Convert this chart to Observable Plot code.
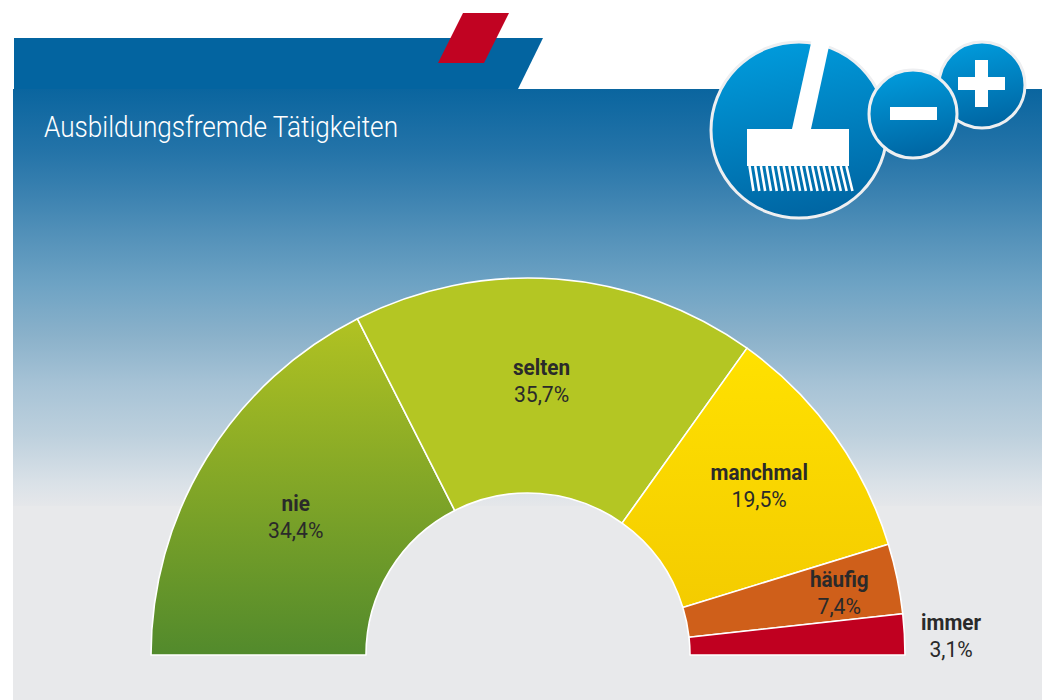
<!DOCTYPE html>
<html lang="de">
<head>
<meta charset="utf-8">
<script src="https://cdn.jsdelivr.net/npm/d3@7"></script>
<script src="https://cdn.jsdelivr.net/npm/@observablehq/plot@0.6"></script>
<style>
  html, body { margin: 0; padding: 0; background: #fff; }
  #stage { position: relative; width: 1046px; height: 700px; overflow: hidden; }
  #stage > svg { position: absolute; left: 0; top: 0; }
</style>
</head>
<body>
<div id="stage">
<svg width="1046" height="700" viewBox="0 0 1046 700" xmlns="http://www.w3.org/2000/svg">
  <defs>
    <linearGradient id="panel" gradientUnits="userSpaceOnUse" x1="0" y1="89" x2="0" y2="506">
      <stop offset="0" stop-color="#0a659f"/>
      <stop offset="0.146" stop-color="#2373a8"/>
      <stop offset="0.247" stop-color="#3a81b0"/>
      <stop offset="0.350" stop-color="#5391b9"/>
      <stop offset="0.470" stop-color="#6ea3c4"/>
      <stop offset="0.590" stop-color="#8ab1ca"/>
      <stop offset="0.710" stop-color="#a7c3d6"/>
      <stop offset="0.830" stop-color="#bdd0dd"/>
      <stop offset="0.950" stop-color="#dbe2e8"/>
      <stop offset="1" stop-color="#e5e7ea"/>
    </linearGradient>
    <linearGradient id="disc" x1="0.35" y1="0" x2="0.55" y2="1">
      <stop offset="0" stop-color="#009bdc"/>
      <stop offset="1" stop-color="#0065a2"/>
    </linearGradient>
    <!-- Ring gradients: coordinates are relative to the ring's centre -->
    <linearGradient id="g-nie" gradientUnits="userSpaceOnUse" x1="0" y1="-335" x2="0" y2="0">
      <stop offset="0" stop-color="#b1c222"/>
      <stop offset="1" stop-color="#528a2c"/>
    </linearGradient>
    <linearGradient id="g-manchmal" gradientUnits="userSpaceOnUse" x1="0" y1="-307" x2="0" y2="-50">
      <stop offset="0" stop-color="#ffe100"/>
      <stop offset="1" stop-color="#f4cc00"/>
    </linearGradient>
  </defs>
  <rect x="13" y="89" width="1029" height="611" fill="#e8e9eb"/>
  <rect x="13" y="89" width="1029" height="417" fill="url(#panel)"/>
  <polygon points="14,38 543,38 518,89 14,89" fill="#0364a0"/>
  <polygon points="463,13 509,13 484,63 438,63" fill="#c10322"/>
  <text x="44" y="137" fill="#fff" font-family="Roboto,'Noto Sans',sans-serif" font-weight="300" font-size="30" textLength="354" lengthAdjust="spacingAndGlyphs">Ausbildungsfremde Tätigkeiten</text>
  <circle cx="799" cy="130" r="88" fill="url(#disc)" stroke="#eeeff1" stroke-width="3"/>
  <polygon points="811.7,40 829.3,45 811,129 792,129" fill="#fff"/>
  <rect x="747" y="129" width="102" height="37" fill="#fff"/>
  <path id="bristles" d="" stroke="#fff" stroke-width="2.6" fill="none"/>
  <circle cx="982" cy="85" r="43" fill="url(#disc)" stroke="#eeeff1" stroke-width="3"/>
  <rect x="958" y="77" width="47" height="13" fill="#fff"/>
  <rect x="975" y="60" width="13" height="47" fill="#fff"/>
  <circle cx="913" cy="114" r="44" fill="url(#disc)" stroke="#eeeff1" stroke-width="3"/>
  <rect x="890" y="107" width="47" height="13" fill="#fff"/>
</svg>
</div>
<script>
// Data
const categories = ["nie", "selten", "manchmal", "häufig", "immer"];
const shareLabels = ["34,4%", "35,7%", "19,5%", "7,4%", "3,1%"];
// Arc spans measured on the picture, in percent of the half ring.
// The reference's slices are not drawn exactly to its printed percentages.
const arcSpans = [35.06, 34.67, 20.78, 6.0, 3.49];

// Styling and layout
const fills = ["url(#g-nie)", "#b4c623", "url(#g-manchmal)", "#cf5f1a", "#c00020"];
const cx = 528, cy = 655, outerR = 377, innerR = 162;
const labelFont = "Roboto,'Noto Sans',sans-serif";
const labelRadius = [271, 275, 286, 317, 423];
const labelAngleNudge = [-0.75, -1.6, -0.45, 0.3, 0.5];

const ends = d3.cumsum(arcSpans);
const rows = categories.map((name, i) => ({
  name, span: arcSpans[i], label: shareLabels[i], mid: ends[i] - arcSpans[i] / 2
}));

// x runs along the half ring: the x scale's output is degrees, from left to right.
const point = (deg, r) => {
  const a = deg * Math.PI / 180;
  return [cx - Math.cos(a) * r, cy - Math.sin(a) * r];
};

function ringRender(index, scales, values) {
  const g = d3.create("svg:g");
  const arc = d3.arc().innerRadius(innerR).outerRadius(outerR);
  const rad = (d) => (d - 90) * Math.PI / 180;
  for (const i of index) {
    g.append("path")
      .attr("transform", `translate(${cx},${cy})`)
      .attr("d", arc({startAngle: rad(values.x1[i]), endAngle: rad(values.x2[i])}))
      .attr("fill", values.fill[i])
      .attr("stroke", "#fff")
      .attr("stroke-width", 1.6)
      .attr("stroke-linejoin", "round");
  }
  return g.node();
}

function placeLabel(shift) {
  return (index, scales, values, dimensions, context, next) => {
    const pts = Array.from(values.x, (deg, i) => point(deg + labelAngleNudge[i], labelRadius[i]));
    return next(index, scales, {
      ...values,
      x: pts.map((p) => p[0]),
      y: pts.map((p) => p[1] + shift)
    }, dimensions, context);
  };
}

const chart = Plot.plot({
  width: 1046,
  height: 700,
  margin: 0,
  style: {background: "transparent", overflow: "visible"},
  x: {domain: [0, 100], range: [0, 180], axis: null},
  color: {type: "ordinal", domain: categories, range: fills},
  marks: [
    Plot.barX(rows, Plot.stackX({x: "span", fill: "name", order: null, render: ringRender})),
    Plot.text(rows, {
      x: "mid", text: "name", render: placeLabel(-13),
      fontFamily: labelFont, fontWeight: "bold", fontSize: 22, fill: "#2a2a2a",
      className: "label-name"
    }),
    Plot.text(rows, {
      x: "mid", text: "label", render: placeLabel(14),
      fontFamily: labelFont, fontWeight: 400, fontSize: 22, fill: "#2a2a2a",
      className: "label-value"
    })
  ]
});
document.getElementById("stage").appendChild(chart);

// The original face is condensed: narrow the labels to the same widths.
const squeeze = (selector, k) => chart.querySelectorAll(selector + " text").forEach((t) => {
  t.setAttribute("textLength", t.getComputedTextLength() * k);
  t.setAttribute("lengthAdjust", "spacingAndGlyphs");
});
squeeze(".label-name", 0.94);
squeeze(".label-value", 0.96);

// Broom bristles (decorative icon)
const b = [];
for (let i = 0; i < 18; i++) {
  const x = 749.5 + i * 5.7;
  b.push(`M${x},166L${x + 4 + i * 0.12},191`);
}
document.getElementById("bristles").setAttribute("d", b.join(""));
</script>
</body>
</html>
